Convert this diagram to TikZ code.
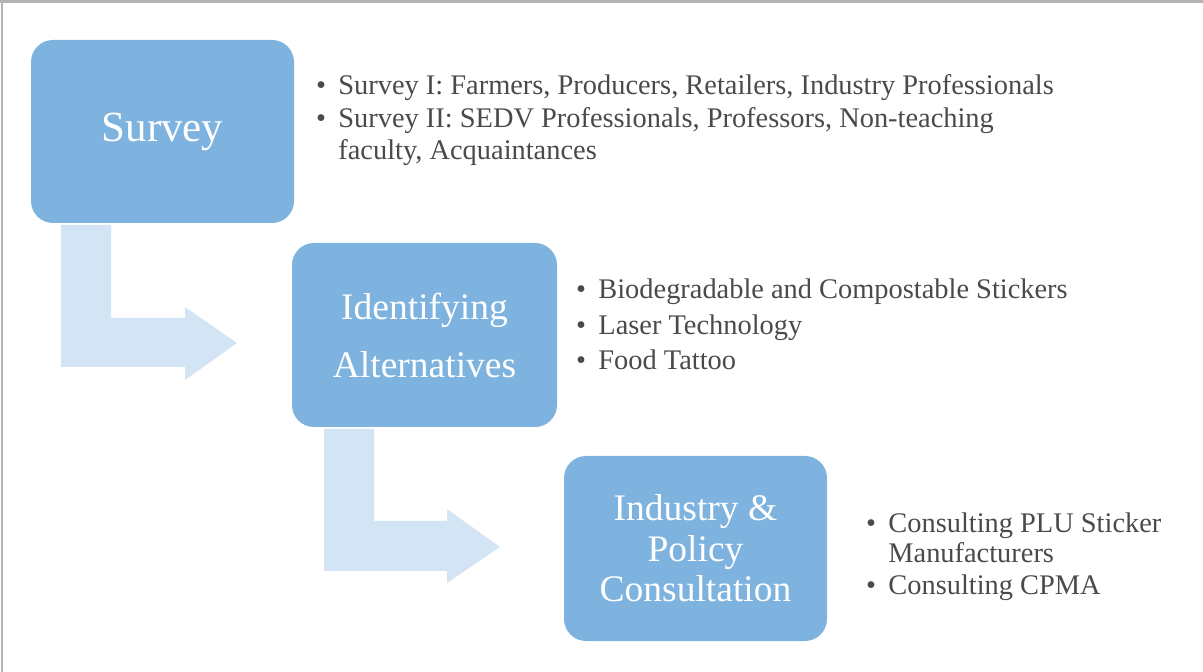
\documentclass[tikz,border=0pt]{standalone}
\usepackage{fontspec}
\setmainfont{Liberation Serif}
\definecolor{boxblue}{HTML}{7EB3DF}
\definecolor{arrowblue}{HTML}{D3E5F4}
\definecolor{txtgray}{HTML}{4A4A4A}
\definecolor{framegray}{HTML}{B4B4B4}
\begin{document}
\begin{tikzpicture}[x=0.5pt,y=-0.5pt,
  stepbox/.style={fill=boxblue, draw=none, rounded corners=11pt, inner sep=0pt, text=white, align=center},
  flowarrow/.style={fill=arrowblue, draw=none},
  bultext/.style={anchor=base west, inner sep=0pt, text=txtgray, font=\fontsize{14.2}{17}\selectfont},
  bulmark/.style={anchor=base, inner sep=0pt, text=txtgray, font=\fontsize{14.2}{17}\selectfont}]
\useasboundingbox (0,0) rectangle (1203,672);
% frame
\draw[framegray, line width=1.5pt] (0,1.5) -- (1203,1.5);
\draw[framegray, line width=1pt] (1.5,0) -- (1.5,672);

% arrows
\path[flowarrow] (61,225) -- (111,225) -- (111,318) -- (185,318) -- (185,307) -- (237,343) -- (185,380) -- (185,367) -- (61,367) -- cycle;
\path[flowarrow] (324,429) -- (374,429) -- (374,521) -- (447,521) -- (447,509) -- (500,547) -- (447,583) -- (447,571) -- (324,571) -- cycle;

% boxes
\node[stepbox, minimum width=131.5pt, minimum height=91.5pt, font=\fontsize{21.5}{25}\selectfont] (survey) at (162.5,131.5) {Survey};
\node[stepbox, minimum width=132.5pt, minimum height=92pt, font=\fontsize{18.75}{29}\selectfont] (alt) at (424.5,335) {Identifying\\Alternatives};
\node[stepbox, minimum width=131.5pt, minimum height=92.5pt, font=\fontsize{18.75}{20.25}\selectfont] (ind) at (695.5,548.5) {Industry \&\\Policy\\Consultation};

% bullet group 1
\node[bulmark] (b1a) at (321,95) {\textbullet};
\node[bultext] (t1a) at (338,95) {Survey I: Farmers, Producers, Retailers, Industry Professionals};
\node[bulmark] (b1b) at (321,128) {\textbullet};
\node[bultext] (t1b) at (338,128) {Survey II: SEDV Professionals, Professors, Non-teaching};
\node[bultext] (t1c) at (338,160) {faculty, Acquaintances};

% bullet group 2
\node[bulmark] (b2a) at (581,299) {\textbullet};
\node[bultext] (t2a) at (598,299) {Biodegradable and Compostable Stickers};
\node[bulmark] (b2b) at (581,335) {\textbullet};
\node[bultext] (t2b) at (598,335) {Laser Technology};
\node[bulmark] (b2c) at (581,370) {\textbullet};
\node[bultext] (t2c) at (598,370) {Food Tattoo};

% bullet group 3
\node[bulmark] (b3a) at (871,532) {\textbullet};
\node[bultext] (t3a) at (888,532) {Consulting PLU Sticker};
\node[bultext] (t3b) at (888,562) {Manufacturers};
\node[bulmark] (b3c) at (871,595) {\textbullet};
\node[bultext] (t3c) at (888,595) {Consulting CPMA};
\end{tikzpicture}
\end{document}
